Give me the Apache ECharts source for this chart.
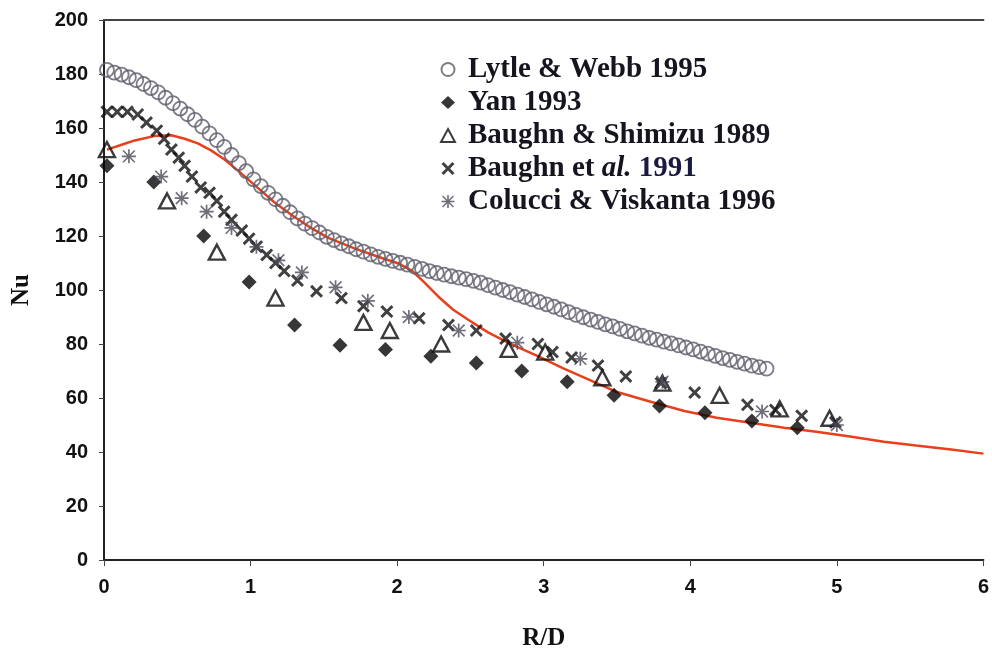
<!DOCTYPE html>
<html>
<head>
<meta charset="utf-8">
<script src="https://cdn.jsdelivr.net/npm/echarts@6/dist/echarts.min.js"></script>
<style>
html,body{margin:0;padding:0;background:#fff;}
#chart{width:992px;height:656px;}
</style>
</head>
<body>
<div id="chart"></div>
<script>
// ---- data ----
const xTicks = [0, 1, 2, 3, 4, 5, 6];
const yTicks = [0, 20, 40, 60, 80, 100, 120, 140, 160, 180, 200];

const seriesNames = ['Lytle & Webb 1995', 'Yan 1993', 'Baughn & Shimizu 1989', 'Baughn et al. 1991', 'Colucci & Viskanta 1996'];

const lytleX = [0.02,0.07,0.12,0.17,0.22,0.27,0.32,0.37,0.42,0.47,0.52,0.57,0.62,0.67,0.72,0.77,0.82,0.87,0.92,0.97,
  1.02,1.07,1.12,1.17,1.22,1.27,1.32,1.37,1.42,1.47,1.52,1.57,1.62,1.67,1.72,1.77,1.82,1.87,1.92,1.97,
  2.02,2.07,2.12,2.17,2.22,2.27,2.32,2.37,2.42,2.47,2.52,2.57,2.62,2.67,2.72,2.77,2.82,2.87,2.92,2.97,
  3.02,3.07,3.12,3.17,3.22,3.27,3.32,3.37,3.42,3.47,3.52,3.57,3.62,3.67,3.72,3.77,3.82,3.87,3.92,3.97,
  4.02,4.07,4.12,4.17,4.22,4.27,4.32,4.37,4.42,4.47,4.52];
const lytleY = [181.5,180.5,179.8,178.8,177.7,176.3,174.8,173.2,171.2,169.2,167.2,165.1,163.0,160.5,158.0,155.5,153.0,150.0,147.0,144.0,
  141.0,138.5,136.0,133.6,131.2,128.8,126.5,124.6,122.9,121.3,119.7,118.5,117.3,116.2,115.1,114.2,113.2,112.3,111.5,110.8,
  110.1,109.4,108.6,107.8,107.0,106.3,105.7,105.1,104.6,104.0,103.4,102.7,101.8,100.9,100.0,99.2,98.3,97.4,96.5,95.6,
  94.7,93.8,92.8,91.8,90.8,89.9,89.0,88.2,87.3,86.5,85.6,84.7,83.9,83.1,82.3,81.6,80.9,80.2,79.5,78.7,
  78.0,77.2,76.4,75.6,74.8,74.1,73.4,72.7,72.0,71.4,70.9];

const yanX = [0.02,0.34,0.68,0.99,1.30,1.61,1.92,2.23,2.54,2.85,3.16,3.48,3.79,4.10,4.42,4.73];
const yanY = [146,140,120,103,87,79.5,78,75.5,73,70,66,61,57,54.5,51.5,49];

const shimizuX = [0.02,0.43,0.77,1.17,1.77,1.95,2.30,2.76,3.01,3.40,3.81,4.20,4.61,4.95];
const shimizuY = [152,133,114,97,88,85,80,78,77,67.5,65.5,61,56,52.5];

const baughnX = [0.02,0.09,0.16,0.23,0.29,0.36,0.41,0.46,0.51,0.55,0.60,0.66,0.72,0.77,0.82,0.87,0.94,0.99,1.04,1.11,
  1.17,1.23,1.32,1.45,1.62,1.77,1.93,2.15,2.35,2.54,2.74,2.96,3.06,3.19,3.37,3.56,3.80,4.03,4.39,4.58,4.76,4.99];
const baughnY = [166,166,166,165,162,159,156,152,149,146,142,138,136,133,129,126,122,119,116,113,
  110,107,103.5,99.5,97,94,92,89.5,87,85,82,80,77,75,72,68,65.5,62,57.5,55.6,53.4,51];

const colucciX = [0.17,0.39,0.53,0.70,0.87,1.04,1.19,1.35,1.58,1.80,2.08,2.42,2.82,3.25,3.81,4.49,5.00];
const colucciY = [149.5,142,134,129,123,116,111,106.5,101,96,90,85,80.5,74.5,66,55,50];

const cfdX = [0.02,0.11,0.21,0.34,0.46,0.55,0.64,0.73,0.82,0.91,1.02,1.16,1.28,1.40,1.53,1.70,1.87,2.01,2.10,2.18,
  2.28,2.38,2.49,2.62,2.78,2.96,3.13,3.30,3.50,3.73,3.96,4.18,4.41,4.64,4.86,5.09,5.32,5.54,5.78,6.00];
const cfdY = [152,153.6,155.4,157,157.3,156,154.3,151.7,148.4,144.4,139.2,132.6,127.8,123.4,119.3,115.6,112.3,109.8,107.2,103.1,
  97.6,92.8,88.8,84.3,79.9,75.5,71.1,67.0,62.2,58.6,55.2,52.7,50.8,49.0,47.5,45.7,43.8,42.4,40.9,39.4];

const zip = (xs, ys) => xs.map((x, i) => [x, ys[i]]);

const crossPath = 'path://M0,1.6L1.6,0L5,3.4L8.4,0L10,1.6L6.6,5L10,8.4L8.4,10L5,6.6L1.6,10L0,8.4L3.4,5Z';
const starPath = 'path://M4.4,0L5.6,0L5.6,10L4.4,10Z M0,4.4L10,4.4L10,5.6L0,5.6Z M1.2,0.4L9.6,8.8L8.8,9.6L0.4,1.2Z M8.8,0.4L9.6,1.2L1.2,9.6L0.4,8.8Z';

const serif = "'Liberation Serif','Times New Roman',serif";
const sans = "'Liberation Sans Narrow','Liberation Sans',Arial,sans-serif";

const chart = echarts.init(document.getElementById('chart'), null, {renderer: 'canvas'});
chart.setOption({
  animation: false,
  backgroundColor: '#ffffff',
  grid: {left: 104, right: 5, top: 20, bottom: 93, containLabel: false},
  legend: {
    orient: 'vertical',
    left: 435,
    top: 50,
    itemGap: 4,
    itemWidth: 14,
    itemHeight: 13,
    data: seriesNames,
    formatter: function (name) {
      if (name === 'Baughn et al. 1991') return '{n|Baughn et }{i|al.}{m| 1991}';
      return '{n|' + name + '}';
    },
    textStyle: {
      color: '#15151f',
      fontFamily: serif,
      fontWeight: 'bold',
      fontSize: 29,
      rich: {
        n: {fontFamily: serif, fontWeight: 'bold', fontSize: 29, color: '#15151f', lineHeight: 28, padding: [0, 0, 0, 8]},
        i: {fontFamily: serif, fontWeight: 'bold', fontStyle: 'italic', fontSize: 29, color: '#15151f', lineHeight: 28},
        m: {fontFamily: serif, fontWeight: 'bold', fontSize: 29, color: '#1a1a40', lineHeight: 28}
      }
    }
  },
  xAxis: [{
    type: 'value',
    min: 0, max: 6, interval: 1,
    name: 'R/D',
    nameLocation: 'middle',
    nameGap: 66,
    nameTextStyle: {fontFamily: serif, fontWeight: 'bold', fontSize: 25, color: '#111'},
    axisLine: {show: true, onZero: false, lineStyle: {color: '#222', width: 2}},
    axisTick: {show: true, length: 6, lineStyle: {color: '#444', width: 1}},
    axisLabel: {fontFamily: sans, fontWeight: 'bold', fontSize: 20, color: '#111', margin: 17,
      formatter: v => String(xTicks.indexOf(v) >= 0 ? v : '')},
    splitLine: {show: false}
  }, {
    type: 'value',
    position: 'top',
    min: 0, max: 6, interval: 1,
    axisLine: {show: true, onZero: false, lineStyle: {color: '#444', width: 2}},
    axisTick: {show: false},
    axisLabel: {show: false},
    splitLine: {show: false}
  }],
  yAxis: {
    type: 'value',
    min: 0, max: 200, interval: 20,
    name: 'Nu',
    nameLocation: 'middle',
    nameGap: 70,
    nameTextStyle: {fontFamily: serif, fontWeight: 'bold', fontSize: 25, color: '#111'},
    axisLine: {show: true, onZero: false, lineStyle: {color: '#222', width: 2}},
    axisTick: {show: true, length: 5, lineStyle: {color: '#444', width: 1}},
    axisLabel: {fontFamily: sans, fontWeight: 'bold', fontSize: 20, color: '#111', margin: 16,
      formatter: v => String(yTicks.indexOf(v) >= 0 ? v : '')},
    splitLine: {show: false}
  },
  series: [
    {
      name: 'CFD',
      type: 'line',
      data: zip(cfdX, cfdY),
      showSymbol: false,
      symbol: 'none',
      lineStyle: {color: '#e8401c', width: 2.5},
      z: 2
    },
    {
      name: seriesNames[0],
      type: 'scatter',
      data: zip(lytleX, lytleY),
      symbol: 'circle',
      symbolSize: 14,
      itemStyle: {color: 'rgba(255,255,255,0)', borderColor: '#5c5c6a', borderWidth: 1.8},
      z: 3
    },
    {
      name: seriesNames[1],
      type: 'scatter',
      data: zip(yanX, yanY),
      symbol: 'diamond',
      symbolSize: [15, 15],
      itemStyle: {color: '#050505'},
      z: 4
    },
    {
      name: seriesNames[2],
      type: 'scatter',
      data: zip(shimizuX, shimizuY),
      symbol: 'triangle',
      symbolSize: [16, 15],
      itemStyle: {color: 'rgba(255,255,255,0)', borderColor: '#0a0a0a', borderWidth: 2.4},
      z: 5
    },
    {
      name: seriesNames[3],
      type: 'scatter',
      data: zip(baughnX, baughnY),
      symbol: crossPath,
      symbolSize: 13,
      itemStyle: {color: '#101010'},
      z: 6
    },
    {
      name: seriesNames[4],
      type: 'scatter',
      data: zip(colucciX, colucciY),
      symbol: starPath,
      symbolSize: 14,
      itemStyle: {color: '#4a4a58'},
      z: 7
    }
  ]
});
</script>
</body>
</html>
